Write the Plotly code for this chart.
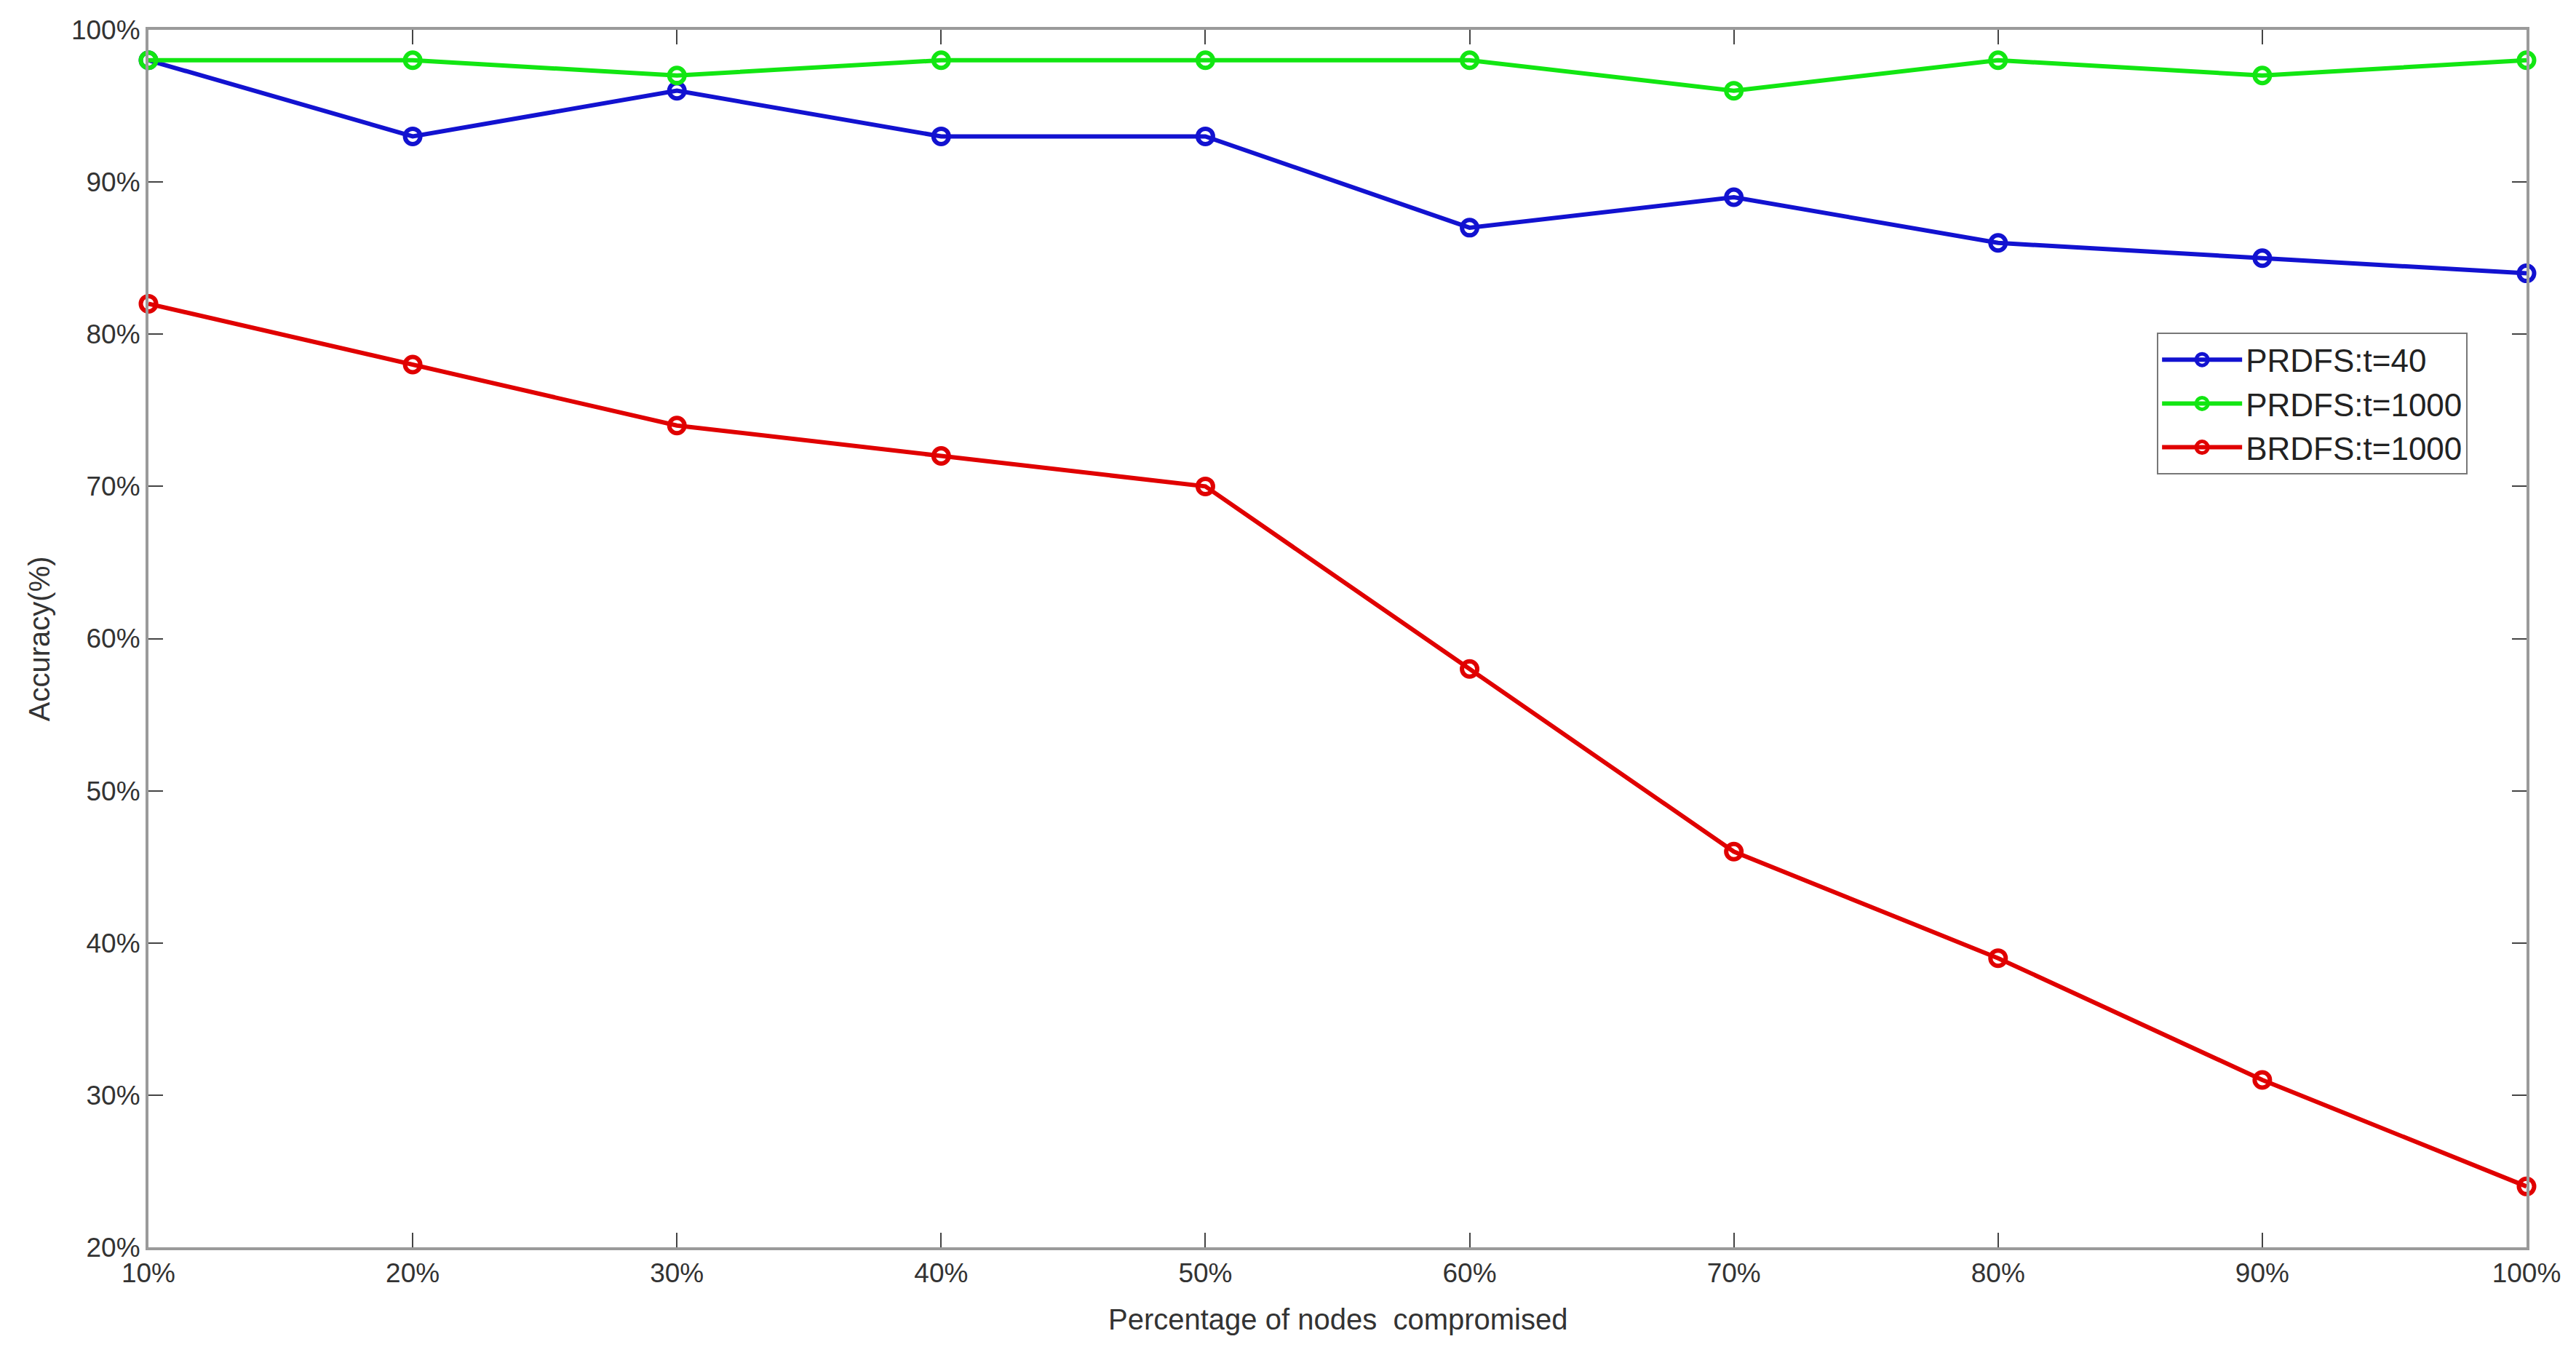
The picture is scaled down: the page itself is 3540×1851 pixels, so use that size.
import plotly.graph_objects as go

x_vals = [10, 20, 30, 40, 50, 60, 70, 80, 90, 100]
prdfs_t40 = [98, 93, 96, 93, 93, 87, 89, 86, 85, 84]
prdfs_t1000 = [98, 98, 97, 98, 98, 98, 96, 98, 97, 98]
brdfs_t1000 = [82, 78, 74, 72, 70, 58, 46, 39, 31, 24]
series_names = ["PRDFS:t=40", "PRDFS:t=1000", "BRDFS:t=1000"]
series_colors = ["#1212D0", "#12E612", "#E00000"]

fig = go.Figure()
for name, ys, col in zip(series_names, [prdfs_t40, prdfs_t1000, brdfs_t1000], series_colors):
    fig.add_trace(go.Scatter(
        x=x_vals, y=ys, name=name, mode="lines+markers",
        line=dict(color=col, width=6),
        marker=dict(symbol="circle-open", size=21, color=col, line=dict(width=6, color=col)),
        cliponaxis=False,
    ))

axis_common = dict(
    showline=True, linecolor="#9a9a9a", linewidth=4, mirror="allticks",
    ticks="inside", ticklen=20, tickwidth=2, tickcolor="#444444",
    showgrid=False, zeroline=False, automargin=False,
    tickfont=dict(family="Liberation Sans, Arial", size=37, color="#333333"),
    ticksuffix="%",
)

fig.update_layout(
    width=3540, height=1851,
    paper_bgcolor="white", plot_bgcolor="white",
    margin=dict(l=196, r=76, t=33, b=145),
    font=dict(family="Liberation Sans, Arial", color="#333333"),
    xaxis=dict(range=[10, 100], tick0=10, dtick=10, **axis_common),
    yaxis=dict(range=[20, 100], tick0=20, dtick=10, **axis_common),
    legend=dict(x=0.8446, y=0.7513, xanchor="left", yanchor="top",
                bgcolor="white", bordercolor="#777777", borderwidth=2,
                font=dict(size=44, color="#222222"), itemwidth=110,
                tracegroupgap=0),
    showlegend=True,
    annotations=[
        dict(text="Percentage of nodes&nbsp;&nbsp;compromised", xref="paper", yref="paper",
             x=0.5, y=-0.059, xanchor="center", yanchor="middle", showarrow=False,
             font=dict(size=40, color="#333333")),
        dict(text="Accuracy(%)", xref="paper", yref="paper",
             x=-0.046, y=0.5, xanchor="center", yanchor="middle", showarrow=False,
             textangle=-90, font=dict(size=40, color="#333333")),
    ],
)

fig.write_html("out.html")
